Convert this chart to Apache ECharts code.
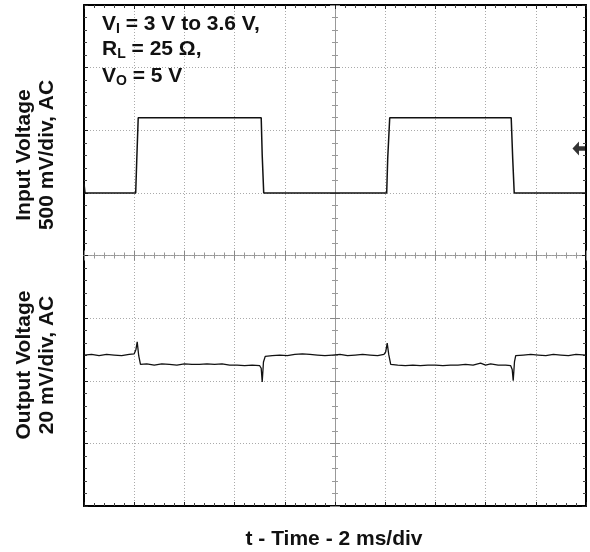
<!DOCTYPE html>
<html>
<head>
<meta charset="utf-8">
<script src="https://cdn.jsdelivr.net/npm/echarts@6/dist/echarts.min.js"></script>
<style>
  html, body { margin: 0; padding: 0; background: #fff; }
  #chart { width: 590px; height: 552px; }
</style>
</head>
<body>
<div id="chart"></div>
<script>
// time in ms (2 ms/div), amplitude in screen divisions (8 div tall)
const inputTime = [0, 0.04, 2.06, 2.1, 2.16, 7.06, 7.1, 7.16, 12.06, 12.1, 12.18, 17.02, 17.08, 17.14, 20]
const inputVolt = [5.15, 5.0, 5.0, 5.5, 6.2, 6.2, 5.6, 5.0, 5.0, 5.55, 6.2, 6.2, 5.55, 5.0, 5.0]

const outputTime = [
  0, 0.3, 0.6, 0.9, 1.2, 1.5, 1.8, 2.0,
  2.07, 2.12, 2.18, 2.25,
  2.5, 2.8, 3.1, 3.4, 3.7, 4.0, 4.3, 4.6, 4.9, 5.2, 5.5, 5.8, 6.1, 6.4, 6.7, 7.0,
  7.06, 7.1, 7.15, 7.22,
  7.5, 7.8, 8.1, 8.4, 8.7, 9.0, 9.3, 9.6, 9.9, 10.2, 10.5, 10.8, 11.1, 11.4, 11.7, 11.95,
  12.02, 12.08, 12.14, 12.22,
  12.5, 12.8, 13.1, 13.4, 13.7, 14.0, 14.3, 14.6, 14.9, 15.2, 15.5, 15.8, 16.0, 16.2, 16.5, 16.8, 17.0,
  17.06, 17.1, 17.15, 17.2,
  17.5, 17.8, 18.1, 18.4, 18.7, 19.0, 19.3, 19.6, 20
]
const outputVolt = [
  2.41, 2.42, 2.40, 2.42, 2.41, 2.40, 2.42, 2.43,
  2.50, 2.62, 2.40, 2.26,
  2.27, 2.25, 2.27, 2.26, 2.25, 2.27, 2.26, 2.26, 2.27, 2.26, 2.27, 2.25, 2.25, 2.24, 2.25, 2.24,
  2.20, 1.98, 2.30, 2.39,
  2.40, 2.41, 2.40, 2.42, 2.43, 2.42, 2.41, 2.40, 2.41, 2.42, 2.40, 2.41, 2.42, 2.41, 2.40, 2.42,
  2.46, 2.60, 2.42, 2.26,
  2.25, 2.24, 2.25, 2.24, 2.25, 2.25, 2.24, 2.25, 2.25, 2.26, 2.25, 2.28, 2.25, 2.27, 2.25, 2.25, 2.24,
  2.18, 2.00, 2.30, 2.40,
  2.41, 2.42, 2.41, 2.40, 2.42, 2.41, 2.40, 2.42, 2.41
]

// channel reference marker (arrow at right edge)
const refMarker = [[19.72, 5.71]]

const chart = echarts.init(document.getElementById('chart'))

const gridBox = { left: 84, top: 5, width: 502, height: 501 }
const font = 'Liberation Sans, Arial, Helvetica, sans-serif'

const borderAxis = (pos, min, max, interval, gridIndex, withSplit) => ({
  type: 'value',
  gridIndex: gridIndex,
  position: pos,
  min: min,
  max: max,
  interval: interval,
  axisLine: { show: true, onZero: false, lineStyle: { color: '#000', width: 2 } },
  axisTick: { show: true, inside: true, length: 4, lineStyle: { color: '#222', width: 1 } },
  minorTick: { show: true, splitNumber: 5, length: 3, lineStyle: { color: '#444', width: 1 } },
  axisLabel: { show: false },
  splitLine: { show: withSplit, lineStyle: { color: '#aaa', width: 1, type: [1, 2] } }
})

const centerAxis = (min, max, interval, gridIndex, inside) => ({
  type: 'value',
  gridIndex: gridIndex,
  min: min,
  max: max,
  interval: interval,
  axisLine: { show: true, onZero: true, lineStyle: { color: '#999', width: 1, type: [2, 1] } },
  axisTick: { show: true, inside: inside, length: 5, lineStyle: { color: '#888', width: 1 } },
  minorTick: { show: true, splitNumber: 5, length: 3, lineStyle: { color: '#999', width: 1 } },
  axisLabel: { show: false },
  splitLine: { show: false }
})

const richNote = {
  m: { fontFamily: font, fontWeight: 'bold', fontSize: 21, fill: '#111', lineHeight: 24 },
  s: { fontFamily: font, fontWeight: 'bold', fontSize: 14, fill: '#111', verticalAlign: 'bottom', lineHeight: 14 }
}

chart.setOption({
  animation: false,
  backgroundColor: '#fff',
  grid: [
    Object.assign({}, gridBox),
    Object.assign({}, gridBox),
    Object.assign({}, gridBox)
  ],
  xAxis: [
    borderAxis('bottom', 0, 20, 2, 0, true),
    borderAxis('top', 0, 20, 2, 0, false),
    centerAxis(-10, 10, 2, 1, true),
    centerAxis(-10, 10, 2, 2, false)
  ],
  yAxis: [
    borderAxis('left', 0, 8, 1, 0, true),
    borderAxis('right', 0, 8, 1, 0, false),
    centerAxis(-4, 4, 1, 1, true),
    centerAxis(-4, 4, 1, 2, false)
  ],
  series: [
    {
      name: 'Input',
      type: 'line',
      xAxisIndex: 0,
      yAxisIndex: 0,
      data: inputTime.map((t, i) => [t, inputVolt[i]]),
      showSymbol: false,
      lineStyle: { color: '#111', width: 1.5 },
      z: 5
    },
    {
      name: 'Output',
      type: 'line',
      xAxisIndex: 0,
      yAxisIndex: 0,
      data: outputTime.map((t, i) => [t, outputVolt[i]]),
      showSymbol: false,
      lineStyle: { color: '#111', width: 1.3 },
      z: 5
    },
    {
      name: 'Ref',
      type: 'scatter',
      xAxisIndex: 0,
      yAxisIndex: 0,
      data: refMarker,
      symbol: 'path://M0,5 L6,0 L6,3.4 L12,3.4 L12,6.6 L6,6.6 L6,10 Z',
      symbolSize: [13, 14],
      itemStyle: { color: '#000' },
      z: 6
    }
  ],
  graphic: [
    {
      type: 'text', left: 102, top: 14, z: 10,
      style: { text: '{m|V}{s|I}{m| = 3 V to 3.6 V,}', rich: richNote }
    },
    {
      type: 'text', left: 102, top: 39, z: 10,
      style: { text: '{m|R}{s|L}{m| = 25 Ω,}', rich: richNote }
    },
    {
      type: 'text', left: 102, top: 66, z: 10,
      style: { text: '{m|V}{s|O}{m| = 5 V}', rich: richNote }
    },
    {
      type: 'text', x: 36, y: 155, rotation: Math.PI / 2,
      style: {
        text: 'Input Voltage\n500 mV/div, AC',
        fontFamily: font, fontWeight: 'bold', fontSize: 21, lineHeight: 23,
        fill: '#111', align: 'center', verticalAlign: 'middle'
      }
    },
    {
      type: 'text', x: 36, y: 365, rotation: Math.PI / 2,
      style: {
        text: 'Output Voltage\n20 mV/div, AC',
        fontFamily: font, fontWeight: 'bold', fontSize: 21, lineHeight: 23,
        fill: '#111', align: 'center', verticalAlign: 'middle'
      }
    },
    {
      type: 'text', x: 334, y: 539,
      style: {
        text: 't - Time - 2 ms/div',
        fontFamily: font, fontWeight: 'bold', fontSize: 21,
        fill: '#111', align: 'center', verticalAlign: 'middle'
      }
    }
  ]
})
</script>
</body>
</html>
